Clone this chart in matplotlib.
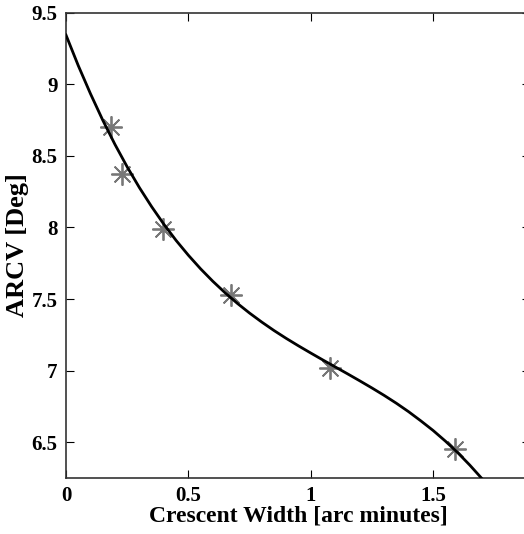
import matplotlib
matplotlib.use("Agg")
import matplotlib.pyplot as plt

# Observed data (stars)
width_obs = [0.184, 0.227, 0.395, 0.673, 1.080, 1.589]
arcv_obs = [8.70, 8.37, 7.99, 7.53, 7.02, 6.45]

# Fitted curve
width_fit = [0.0, 0.05, 0.1, 0.15, 0.2, 0.25, 0.3, 0.35, 0.4, 0.45, 0.5, 0.55,
             0.6, 0.65, 0.7, 0.75, 0.8, 0.85, 0.9, 0.95, 1.0, 1.05, 1.1, 1.15,
             1.2, 1.25, 1.3, 1.35, 1.4, 1.45, 1.5, 1.55, 1.6, 1.65, 1.7]
arcv_fit = [9.344, 9.131, 8.934, 8.750, 8.580, 8.423, 8.278, 8.145, 8.022, 7.909,
            7.806, 7.711, 7.624, 7.544, 7.470, 7.402, 7.339, 7.280, 7.225, 7.173,
            7.123, 7.074, 7.026, 6.978, 6.929, 6.879, 6.827, 6.772, 6.713, 6.649,
            6.582, 6.508, 6.428, 6.340, 6.245]

xticks = [0, 0.5, 1, 1.5]
xtick_labels = ["0", "0.5", "1", "1.5"]
yticks = [6.5, 7, 7.5, 8, 8.5, 9, 9.5]
ytick_labels = ["6.5", "7", "7.5", "8", "8.5", "9", "9.5"]

plt.rcParams['font.family'] = ['Liberation Serif', 'DejaVu Serif']
plt.rcParams['font.weight'] = 'bold'

fig = plt.figure(figsize=(5.24, 5.34), dpi=100)
ax = fig.add_axes([66/524, 56/534, 464/524, (478-12.7)/534])

ax.plot(width_fit, arcv_fit, color='black', linewidth=2.0, zorder=3, clip_on=True)
ax.plot(width_obs, arcv_obs, linestyle='none', marker=(8, 2, 0), markersize=16,
        markeredgewidth=1.3, color='#777777', zorder=2)

ax.set_xlim(0, 1.896)
ax.set_ylim(6.25, 9.5)
ax.set_xticks(xticks)
ax.set_xticklabels(xtick_labels)
ax.set_yticks(yticks)
ax.set_yticklabels(ytick_labels)
ax.tick_params(direction='in', top=True, right=True, length=6, width=0.8,
               labelsize=15, pad=6)
for lab in ax.get_xticklabels() + ax.get_yticklabels():
    lab.set_fontweight('bold')
for s in ax.spines.values():
    s.set_linewidth(1.2)
    s.set_color('#333333')

ax.set_xlabel("Crescent Width [arc minutes]", fontsize=17, fontweight='bold', labelpad=-0.5)
ax.set_ylabel("ARCV [Deg]", fontsize=19, fontweight='bold', labelpad=2)

fig.savefig("out.png", dpi=100)
